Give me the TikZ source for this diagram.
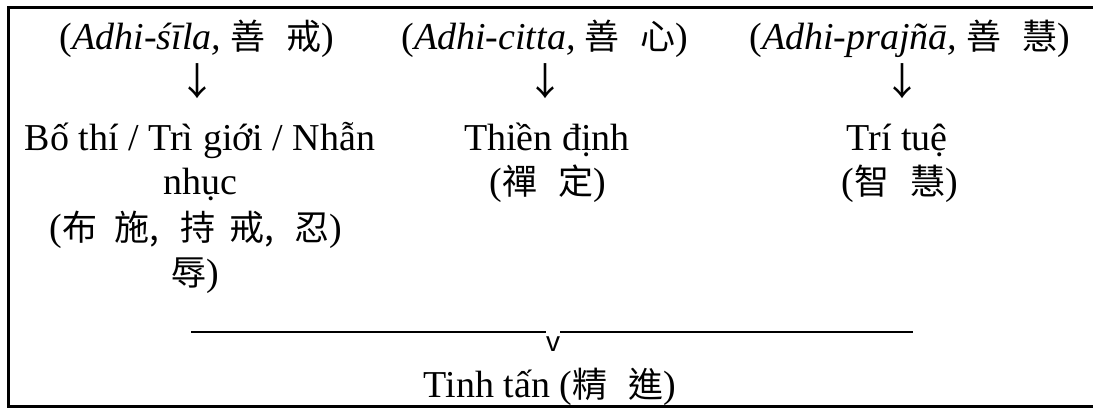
\documentclass[tikz,border=0pt]{standalone}
\usepackage{fontspec}
\setmainfont{Liberation Serif}
\newfontfamily\cjk{Noto Sans CJK TC}
\newfontfamily\sansv{Liberation Sans}
\newcommand\cj[1]{{\cjk\fontsize{35}{40}\selectfont #1}}
\newcommand\gp{\hspace{0.6em}}
\begin{document}
\begin{tikzpicture}[x=1pt,y=-1pt,
  txt/.style={font=\fontsize{38}{46}\selectfont, inner sep=0pt, anchor=base},
  arr/.style={font=\cjk\fontsize{38}{46}\selectfont, inner sep=0pt, anchor=base},
  frame/.style={line width=2.5pt},
  joinline/.style={line width=1.8pt}]
\useasboundingbox (0,0) rectangle (1093,408);
\clip (0,0) rectangle (1093,408);
\draw[frame] (1110,7.5) -- (8.5,7.5) -- (8.5,406.5) -- (1110,406.5);
% column 1
\node[txt] (a1) at (197,49) {(\textit{Adhi-śīla,} \cj{善\gp{}戒})};
\node[arr] (r1) at (197,95) {↓};
\node[txt] (b1) at (200,150) {Bố thí / Trì giới / Nhẫn};
\node[txt] (c1) at (200,194) {nhục};
\node[txt] (d1) at (196,240) {(\cj{布\hspace{0.5em}施,\hspace{0.6em}持\hspace{0.4em}戒,\hspace{0.6em}忍})};
\node[txt] (e1) at (195,285) {\cj{辱})};
% column 2
\node[txt] (a2) at (545,49) {(\textit{Adhi-citta,} \cj{善\gp{}心})};
\node[arr] (r2) at (545,95) {↓};
\node[txt] (b2) at (547,150) {Thiền định};
\node[txt] (c2) at (548,194) {(\cj{禪\gp{}定})};
% column 3
\node[txt] (a3) at (910,49) {(\textit{Adhi-prajñā,} \cj{善\gp{}慧})};
\node[arr] (r3) at (902,95) {↓};
\node[txt] (b3) at (897,150) {Trí tuệ};
\node[txt] (c3) at (900,194) {(\cj{智\gp{}慧})};
% joining line
\coordinate (jl) at (191,332);
\coordinate (jr) at (913,332);
\node[inner sep=0pt, anchor=base, font=\sansv\fontsize{28}{32}\selectfont] (v) at (553,351) {v};
\draw[joinline] (jl) -- (jl -| v.west);
\draw[joinline] (jr -| v.east) -- (jr);
\node[txt] (t) at (550,397) {Tinh tấn (\cj{精\gp{}進})};
\end{tikzpicture}
\end{document}
